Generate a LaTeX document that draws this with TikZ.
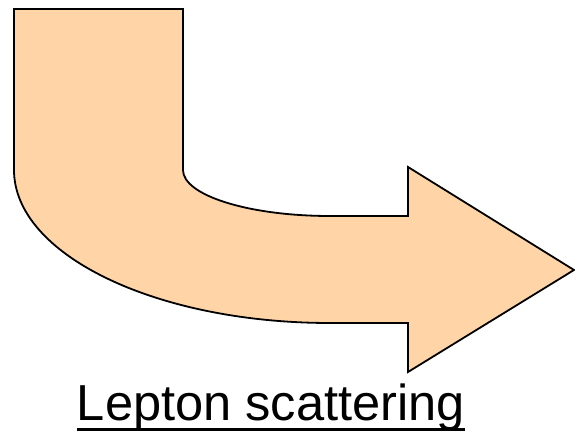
\documentclass[tikz,border=0pt]{standalone}
\usepackage{fontspec}
\setmainfont{Liberation Sans}
\definecolor{peach}{HTML}{FFD4A6}
\begin{document}
\begin{tikzpicture}[x=1pt,y=1pt,
  bigarrow/.style={draw=black,fill=peach,line width=1.8pt,line join=miter},
  caption/.style={inner sep=0pt,anchor=base,font=\fontsize{50.6}{56}\selectfont}]
\useasboundingbox (0,0) rectangle (575,438);
\draw[bigarrow] (14,429) -- (183,429) -- (183,268)
  arc[start angle=180,end angle=270,x radius=147,y radius=46]
  -- (408,222) -- (408,271) -- (574,168) -- (408,66) -- (408,115) -- (330,115)
  arc[start angle=270,end angle=180,x radius=316,y radius=153]
  -- cycle;
\node[caption] (cap) at (271,17) {Lepton scattering};
\coordinate (ul) at ([yshift=-9pt]cap.base west);
\coordinate (ur) at ([yshift=-9pt]cap.base east);
\draw[line width=3pt] (ul) -- (ur);
\end{tikzpicture}
\end{document}
